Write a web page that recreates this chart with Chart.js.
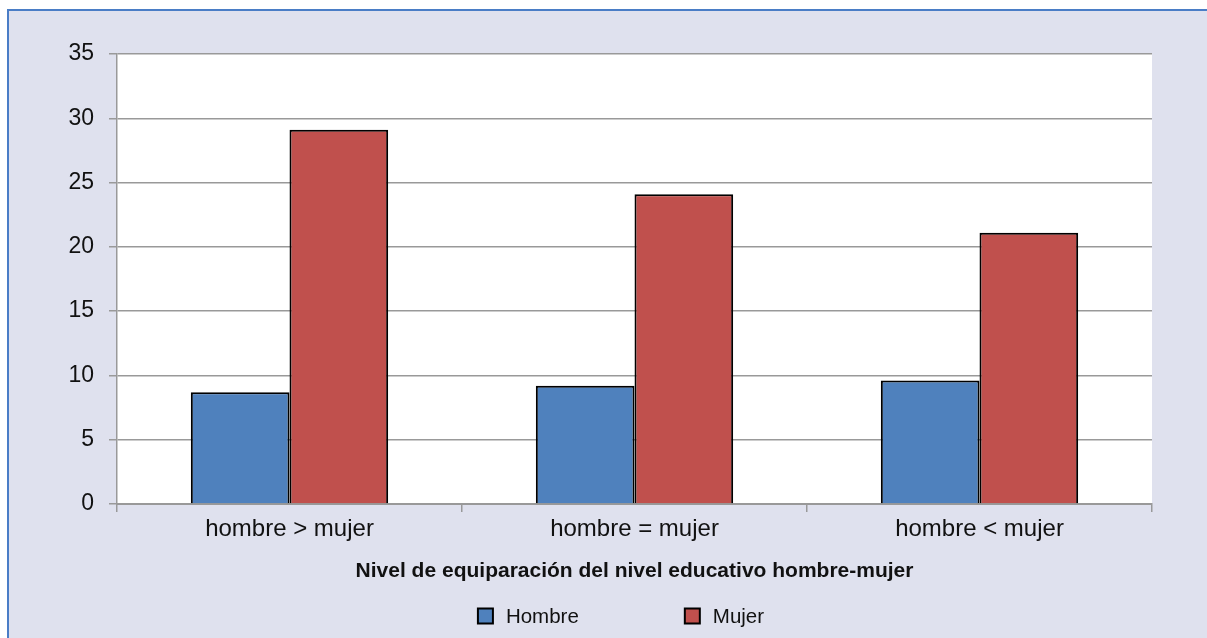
<!DOCTYPE html>
<html>
<head>
<meta charset="utf-8">
<script src="https://cdn.jsdelivr.net/npm/chart.js@4.4.1/dist/chart.umd.min.js"></script>
<style>
  html, body { margin: 0; padding: 0; background: #ffffff; }
  #wrap { position: absolute; left: 0; top: 0; width: 1207px; height: 638px; }
</style>
</head>
<body>
<div id="wrap"><canvas id="c" width="1207" height="638"></canvas></div>
<script>
const categories = ['hombre > mujer', 'hombre = mujer', 'hombre < mujer'];
const seriesNames = ['Hombre', 'Mujer'];
const hombreValues = [8.7, 9.2, 9.6];
const mujerValues = [29.1, 24.1, 21.1];
const yTicks = [0, 5, 10, 15, 20, 25, 30, 35];
const xAxisTitle = 'Nivel de equiparación del nivel educativo hombre-mujer';

const FONT = "'Liberation Sans', Arial, Helvetica, sans-serif";
const BG = '#dfe1ee';
const FRAME = '#4a7dc6';
const GRID = '#999999';

const backgroundPlugin = {
  id: 'bgPlugin',
  beforeDraw(chart) {
    const ctx = chart.ctx;
    const {width, height, chartArea} = chart;
    ctx.save();
    ctx.fillStyle = '#ffffff';
    ctx.fillRect(0, 0, width, height);
    ctx.fillStyle = BG;
    ctx.fillRect(7, 9, width - 7, height - 9);
    ctx.fillStyle = FRAME;
    ctx.fillRect(7, 9, width - 7, 2);
    ctx.fillRect(7, 9, 2, height - 9);
    ctx.fillStyle = '#ffffff';
    ctx.fillRect(chartArea.left, chartArea.top, chartArea.right - chartArea.left, chartArea.bottom - chartArea.top);
    ctx.restore();
  }
};

const legendPlugin = {
  id: 'customLegend',
  afterDraw(chart) {
    const ctx = chart.ctx;
    ctx.save();
    ctx.font = '20.5px ' + FONT;
    const box = 15, gapText = 13, gapItem = 106;
    const items = chart.data.datasets.map(ds => ({
      text: ds.label, color: ds.backgroundColor,
      w: box + gapText + ctx.measureText(ds.label).width
    }));
    const total = items.reduce((s, it) => s + it.w, 0) + gapItem * (items.length - 1);
    let x = 621 - total / 2;
    const cy = 616;
    items.forEach(it => {
      ctx.fillStyle = it.color;
      ctx.fillRect(x, cy - box / 2, box, box);
      ctx.strokeStyle = '#000000';
      ctx.lineWidth = 2;
      ctx.strokeRect(x, cy - box / 2, box, box);
      ctx.fillStyle = '#111111';
      ctx.textBaseline = 'middle';
      ctx.textAlign = 'left';
      ctx.fillText(it.text, x + box + gapText, cy + 1);
      x += it.w + gapItem;
    });
    ctx.restore();
  }
};

new Chart(document.getElementById('c'), {
  type: 'bar',
  data: {
    labels: categories,
    datasets: [
      {
        label: seriesNames[0],
        data: hombreValues,
        backgroundColor: '#4f81bd',
        borderColor: '#000000',
        borderWidth: 2,
        barPercentage: 1.0,
        categoryPercentage: 0.572
      },
      {
        label: seriesNames[1],
        data: mujerValues,
        backgroundColor: '#c0504d',
        borderColor: '#000000',
        borderWidth: 2,
        barPercentage: 1.0,
        categoryPercentage: 0.572
      }
    ]
  },
  options: {
    responsive: false,
    animation: false,
    devicePixelRatio: 1,
    layout: { padding: { left: 0, right: 55, top: 54, bottom: 54 } },
    plugins: {
      legend: { display: false },
      tooltip: { enabled: false },
      title: { display: false }
    },
    scales: {
      x: {
        offset: true,
        grid: {
          display: true,
          offset: true,
          drawOnChartArea: false,
          drawTicks: true,
          tickLength: 8,
          color: GRID,
          lineWidth: 1.5
        },
        border: { display: true, color: GRID, width: 2 },
        ticks: {
          color: '#111111',
          font: { family: FONT, size: 24 },
          padding: 3,
          maxRotation: 0
        },
        title: {
          display: true,
          text: xAxisTitle,
          color: '#111111',
          font: { family: FONT, size: 21, weight: 'bold' },
          padding: { top: 0, bottom: 0 }
        },
        afterFit(scale) { scale.height = 80; }
      },
      y: {
        min: 0,
        max: 35,
        afterBuildTicks(scale) { scale.ticks = yTicks.map(v => ({ value: v })); },
        grid: {
          color: GRID,
          lineWidth: 1.5,
          drawTicks: true,
          tickLength: 8
        },
        border: { display: true, color: GRID, width: 1.5 },
        ticks: {
          color: '#111111',
          font: { family: FONT, size: 23 },
          padding: 15
        },
        afterFit(scale) { scale.width = 117; }
      }
    }
  },
  plugins: [backgroundPlugin, legendPlugin]
});
</script>
</body>
</html>
